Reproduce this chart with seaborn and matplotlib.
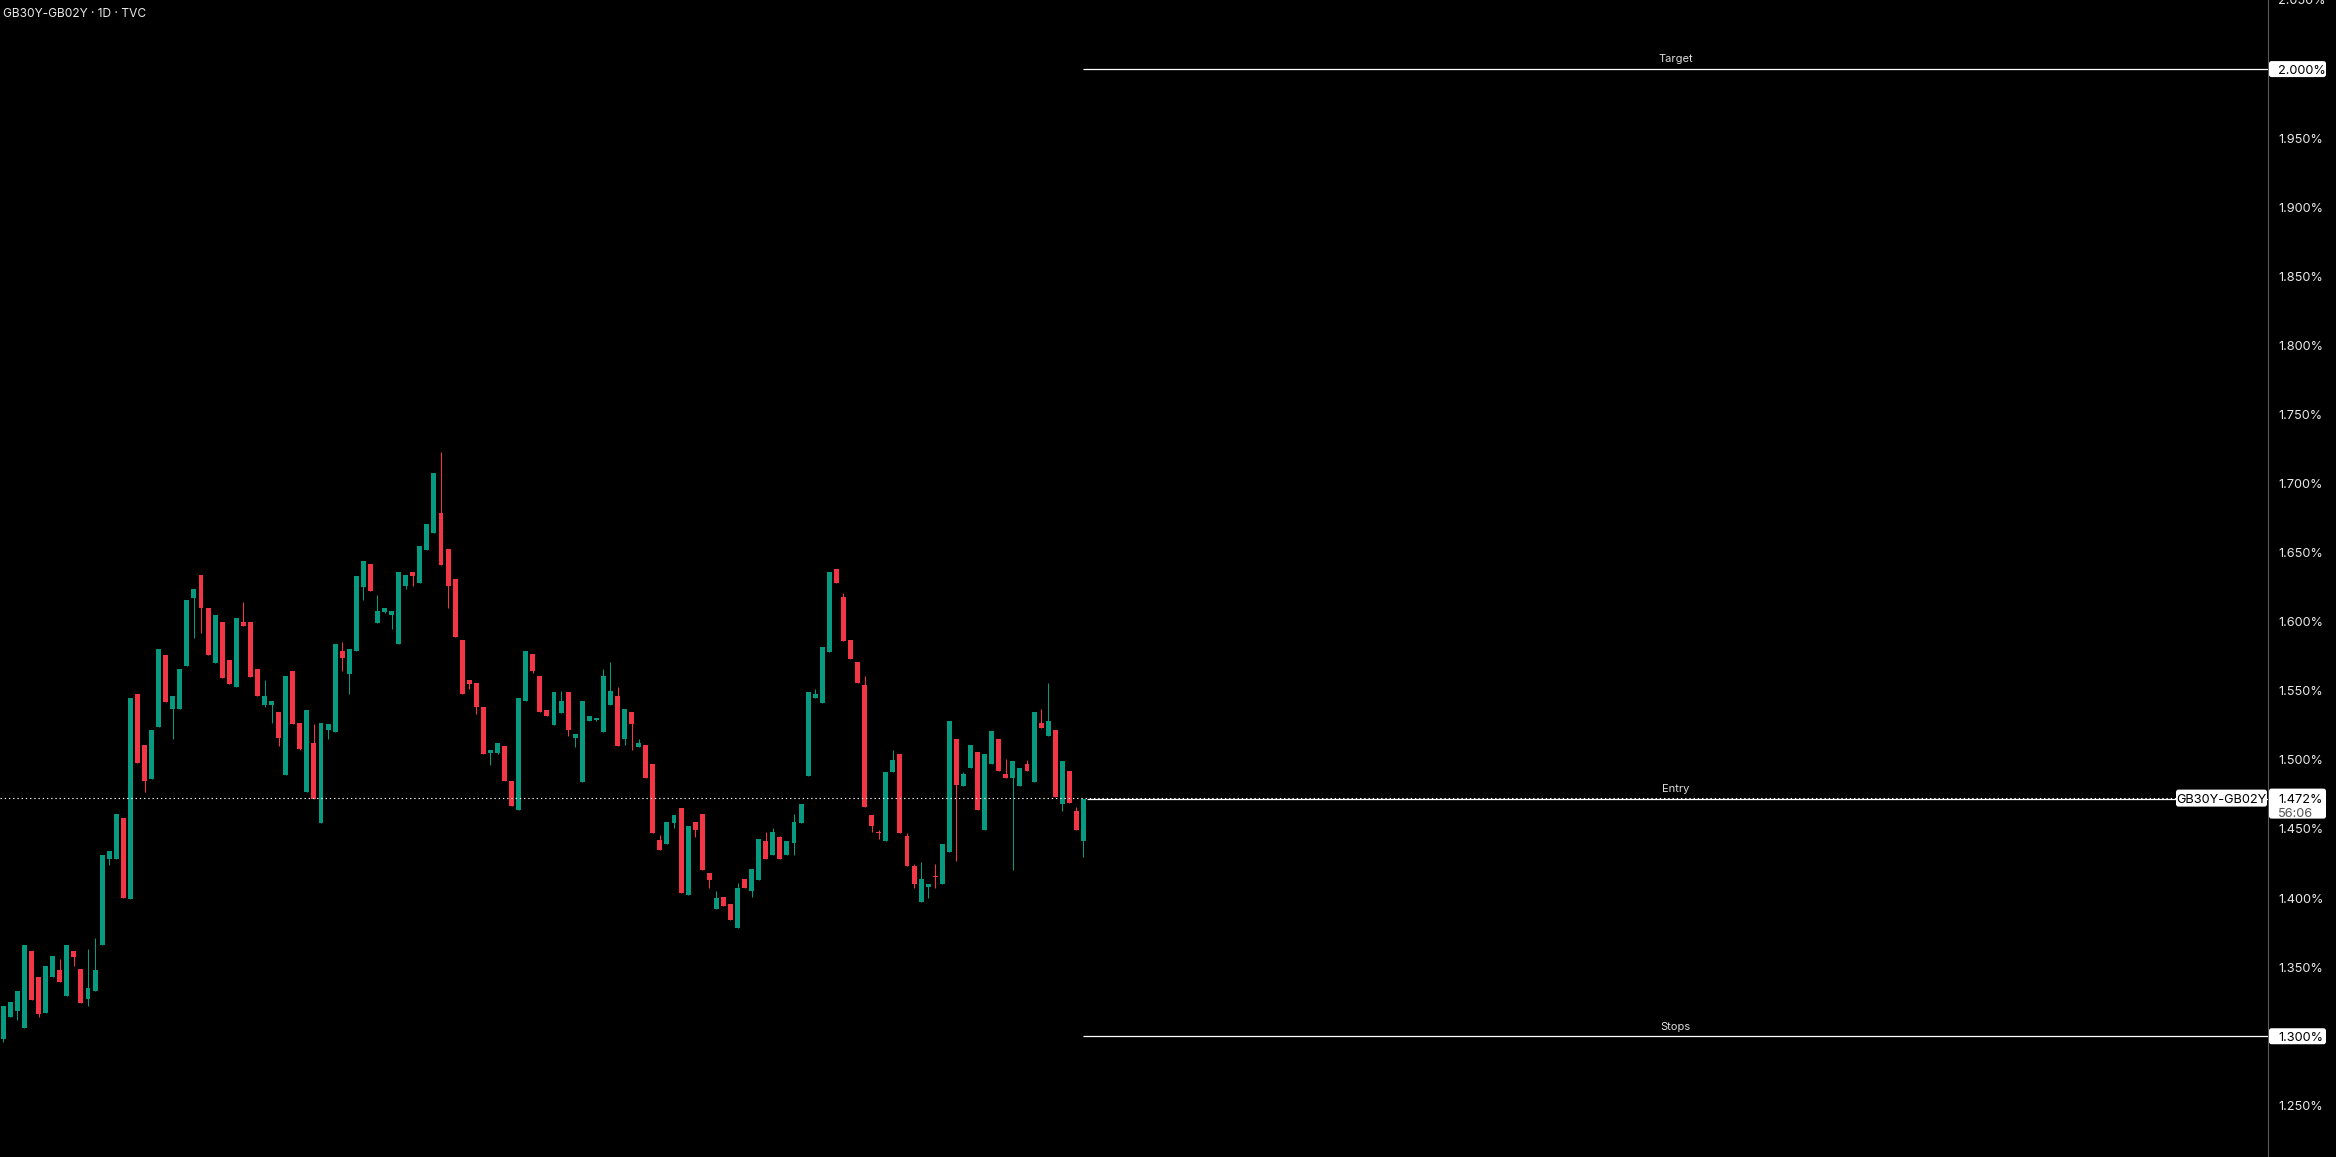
import matplotlib
matplotlib.use("Agg")
import matplotlib.pyplot as plt
import matplotlib.transforms as mtransforms
from matplotlib.patches import FancyBboxPatch
import numpy as np
import pandas as pd
import seaborn as sns

# ---- data ----
title = "GB30Y-GB02Y · 1D · TVC"
symbol = "GB30Y-GB02Y"
countdown = "56:06"

opens = [
    1.298, 1.314, 1.318, 1.306, 1.362, 1.343, 1.317, 1.343, 1.348, 1.329,
    1.362, 1.349, 1.327, 1.333, 1.366, 1.428, 1.428, 1.458, 1.399, 1.548,
    1.511, 1.486, 1.524, 1.576, 1.537, 1.537, 1.568, 1.617, 1.634, 1.610,
    1.570, 1.600, 1.572, 1.553, 1.600, 1.600, 1.566, 1.540, 1.540, 1.535,
    1.489, 1.564, 1.527, 1.477, 1.512, 1.454, 1.522, 1.520, 1.579, 1.562,
    1.579, 1.625, 1.642, 1.599, 1.607, 1.605, 1.584, 1.626, 1.636, 1.628,
    1.652, 1.664, 1.679, 1.653, 1.631, 1.587, 1.558, 1.556, 1.538, 1.505,
    1.505, 1.510, 1.485, 1.464, 1.543, 1.577, 1.561, 1.536, 1.525, 1.534,
    1.549, 1.516, 1.484, 1.528, 1.529, 1.520, 1.540, 1.546, 1.515, 1.535,
    1.509, 1.511, 1.497, 1.442, 1.439, 1.454, 1.465, 1.402, 1.455, 1.461,
    1.418, 1.392, 1.401, 1.396, 1.378, 1.414, 1.405, 1.413, 1.441, 1.431,
    1.444, 1.431, 1.440, 1.454, 1.488, 1.545, 1.541, 1.578, 1.638, 1.618,
    1.587, 1.571, 1.554, 1.460, 1.448, 1.441, 1.491, 1.504, 1.445, 1.423,
    1.397, 1.408, 1.416, 1.410, 1.433, 1.515, 1.481, 1.494, 1.506, 1.449,
    1.497, 1.515, 1.490, 1.487, 1.481, 1.497, 1.484, 1.527, 1.517, 1.522,
    1.468, 1.492, 1.463, 1.441,
]
highs = [
    1.322, 1.325, 1.333, 1.366, 1.362, 1.343, 1.351, 1.358, 1.356, 1.366,
    1.362, 1.349, 1.363, 1.371, 1.431, 1.434, 1.461, 1.458, 1.545, 1.548,
    1.511, 1.522, 1.580, 1.576, 1.546, 1.566, 1.616, 1.624, 1.634, 1.610,
    1.605, 1.600, 1.572, 1.603, 1.614, 1.600, 1.566, 1.558, 1.543, 1.535,
    1.561, 1.564, 1.527, 1.536, 1.526, 1.527, 1.526, 1.584, 1.585, 1.580,
    1.633, 1.644, 1.642, 1.619, 1.610, 1.608, 1.636, 1.634, 1.636, 1.655,
    1.671, 1.708, 1.723, 1.653, 1.631, 1.587, 1.558, 1.556, 1.538, 1.507,
    1.512, 1.510, 1.485, 1.545, 1.579, 1.577, 1.561, 1.536, 1.549, 1.550,
    1.549, 1.519, 1.543, 1.532, 1.530, 1.566, 1.571, 1.553, 1.537, 1.535,
    1.515, 1.511, 1.497, 1.446, 1.455, 1.460, 1.465, 1.452, 1.455, 1.461,
    1.418, 1.405, 1.401, 1.396, 1.411, 1.414, 1.421, 1.443, 1.448, 1.451,
    1.445, 1.441, 1.461, 1.468, 1.549, 1.551, 1.582, 1.636, 1.638, 1.621,
    1.587, 1.571, 1.561, 1.460, 1.449, 1.491, 1.507, 1.504, 1.447, 1.425,
    1.426, 1.410, 1.425, 1.439, 1.528, 1.515, 1.491, 1.511, 1.506, 1.504,
    1.521, 1.515, 1.501, 1.499, 1.494, 1.500, 1.535, 1.537, 1.556, 1.522,
    1.499, 1.492, 1.466, 1.472,
]
lows = [
    1.296, 1.314, 1.312, 1.306, 1.326, 1.314, 1.317, 1.343, 1.339, 1.329,
    1.351, 1.324, 1.322, 1.333, 1.366, 1.424, 1.428, 1.400, 1.399, 1.498,
    1.477, 1.486, 1.524, 1.542, 1.515, 1.537, 1.568, 1.588, 1.592, 1.576,
    1.570, 1.559, 1.555, 1.553, 1.597, 1.560, 1.546, 1.538, 1.527, 1.510,
    1.489, 1.526, 1.507, 1.477, 1.472, 1.454, 1.515, 1.520, 1.564, 1.548,
    1.579, 1.616, 1.622, 1.599, 1.606, 1.595, 1.584, 1.624, 1.626, 1.628,
    1.652, 1.664, 1.641, 1.610, 1.589, 1.548, 1.551, 1.533, 1.504, 1.496,
    1.504, 1.485, 1.467, 1.464, 1.543, 1.563, 1.535, 1.532, 1.525, 1.534,
    1.517, 1.509, 1.484, 1.528, 1.528, 1.520, 1.540, 1.510, 1.511, 1.507,
    1.509, 1.487, 1.447, 1.435, 1.439, 1.451, 1.404, 1.402, 1.444, 1.420,
    1.407, 1.392, 1.394, 1.384, 1.378, 1.407, 1.401, 1.413, 1.428, 1.431,
    1.428, 1.431, 1.431, 1.454, 1.488, 1.545, 1.541, 1.578, 1.628, 1.586,
    1.573, 1.556, 1.466, 1.448, 1.443, 1.441, 1.491, 1.447, 1.423, 1.407,
    1.397, 1.400, 1.407, 1.410, 1.433, 1.427, 1.481, 1.494, 1.464, 1.449,
    1.497, 1.492, 1.487, 1.420, 1.481, 1.492, 1.484, 1.523, 1.517, 1.473,
    1.463, 1.469, 1.449, 1.430,
]
closes = [
    1.322, 1.325, 1.333, 1.366, 1.326, 1.316, 1.351, 1.358, 1.339, 1.366,
    1.357, 1.324, 1.335, 1.348, 1.431, 1.434, 1.461, 1.400, 1.545, 1.498,
    1.485, 1.522, 1.580, 1.542, 1.546, 1.566, 1.616, 1.624, 1.610, 1.576,
    1.605, 1.559, 1.555, 1.603, 1.597, 1.560, 1.546, 1.546, 1.543, 1.516,
    1.561, 1.526, 1.508, 1.536, 1.472, 1.527, 1.526, 1.584, 1.574, 1.580,
    1.633, 1.644, 1.622, 1.608, 1.610, 1.608, 1.636, 1.634, 1.633, 1.655,
    1.671, 1.708, 1.641, 1.626, 1.589, 1.548, 1.555, 1.538, 1.504, 1.507,
    1.512, 1.485, 1.467, 1.545, 1.579, 1.564, 1.535, 1.532, 1.549, 1.543,
    1.522, 1.519, 1.543, 1.532, 1.530, 1.561, 1.550, 1.510, 1.537, 1.526,
    1.512, 1.487, 1.447, 1.435, 1.455, 1.460, 1.404, 1.452, 1.449, 1.420,
    1.413, 1.400, 1.394, 1.384, 1.407, 1.407, 1.421, 1.443, 1.428, 1.448,
    1.428, 1.441, 1.455, 1.468, 1.549, 1.548, 1.582, 1.636, 1.628, 1.586,
    1.573, 1.556, 1.466, 1.452, 1.447, 1.491, 1.500, 1.447, 1.423, 1.410,
    1.414, 1.410, 1.415, 1.439, 1.528, 1.482, 1.490, 1.511, 1.464, 1.504,
    1.521, 1.492, 1.487, 1.499, 1.494, 1.492, 1.535, 1.523, 1.528, 1.473,
    1.499, 1.469, 1.449, 1.472,
]

levels = ["Target", "Entry", "Stops"]
level_values = [2.000, 1.472, 1.300]
tick_values = [1.25, 1.35, 1.40, 1.45, 1.50, 1.55, 1.60, 1.65,
               1.70, 1.75, 1.80, 1.85, 1.90, 1.95, 2.05]
y_min, y_max = 1.2126, 2.0486

up_color = "#089981"
down_color = "#f23645"
text_color = "#dcdcdc"

df = pd.DataFrame({"open": opens, "high": highs, "low": lows, "close": closes})
df["i"] = np.arange(len(df))
df["color"] = np.where(df["close"] >= df["open"], up_color, down_color)
df["body_lo"] = df[["open", "close"]].min(axis=1)
df["body_h"] = (df["close"] - df["open"]).abs().clip(lower=0.0008)

# ---- style ----
sns.set_theme(style="dark", rc={
    "axes.facecolor": "black",
    "figure.facecolor": "black",
    "savefig.facecolor": "black",
    "axes.grid": False,
})
plt.rcParams["font.family"] = ["Inter", "DejaVu Sans"]

W, H = 2336, 1157
axis_px = 2268          # right price scale line
step_px = 7.06          # bar spacing
first_px = 3.3          # centre of first bar


def px_to_x(p):
    return (p - first_px) / step_px


fig = plt.figure(figsize=(W / 100, H / 100), dpi=100)
ax = fig.add_axes([0, 0, axis_px / W, 1])
x_lo, x_hi = px_to_x(0), px_to_x(axis_px)
ax.set_xlim(x_lo, x_hi)
ax.set_ylim(y_min, y_max)

# candles
ax.vlines(df["i"], df["low"], df["high"], colors=df["color"], lw=0.75, zorder=2)
ax.bar(df["i"], df["body_h"], bottom=df["body_lo"], width=0.7,
       color=df["color"], linewidth=0, zorder=3)

# level lines
last_i = len(df) - 1
for name, val in zip(levels, level_values):
    start = last_i + 0.5 if name == "Entry" else last_i
    ax.hlines(val, start, x_hi, colors="white", lw=0.9, zorder=4)
    ax.annotate(name, xy=((last_i + x_hi) / 2, val), xytext=(0, 4.8),
                textcoords="offset points", ha="center", va="baseline",
                color=text_color, fontsize=8)

# dotted last-price line (sits one pixel above the entry line)
up1 = ax.transData + mtransforms.ScaledTranslation(0, 1 / 100, fig.dpi_scale_trans)
ax.hlines(closes[-1], x_lo, px_to_x(2176), colors="white", lw=0.8,
          linestyles=(0, (1.2, 2.6)), zorder=4, transform=up1)

# price scale
ax.yaxis.tick_right()
ax.set_yticks(tick_values)
ax.set_yticklabels([f"{v:.3f}%" for v in tick_values])
ax.tick_params(axis="y", length=0, pad=7.2, labelsize=9.2, labelcolor="#e8e8e8")
ax.tick_params(axis="x", length=0, labelbottom=False)
ax.set_xticks([])
for side in ["top", "left", "bottom"]:
    ax.spines[side].set_visible(False)
ax.spines["right"].set_color("#5a5a5a")
ax.spines["right"].set_linewidth(0.8)

fig.text(3 / W, 1 - 16.7 / H, title, ha="left", va="baseline",
         color="#e8e8e8", fontsize=8.6)

ident = mtransforms.IdentityTransform()


def ypix(val):
    return ax.transData.transform((0, val))[1]


def label_box(x0, x1, y0, y1):
    fig.add_artist(FancyBboxPatch((x0, y0), x1 - x0, y1 - y0,
                                  boxstyle="round,pad=0,rounding_size=2.5",
                                  transform=ident, fc="white", ec="none",
                                  zorder=6))


for val in [level_values[0], level_values[2]]:
    yc = ypix(val)
    label_box(axis_px + 1, 2326, yc - 8, yc + 8)
    fig.text(2278, yc, f"{val:.3f}%", transform=ident, ha="left",
             va="center_baseline", color="black", fontsize=9.2, zorder=7)

yc = ypix(closes[-1])
label_box(axis_px + 1, 2326, yc - 20, yc + 10)
fig.text(2278, yc, f"{closes[-1]:.3f}%", transform=ident, ha="left",
         va="center_baseline", color="black", fontsize=9.2, zorder=7)
fig.text(2278, yc - 13.5, countdown, transform=ident, ha="left",
         va="center_baseline", color="#555555", fontsize=9.2, zorder=7)
label_box(2176, axis_px - 1, yc - 8, yc + 9)
fig.text(2221, yc, symbol, transform=ident, ha="center",
         va="center_baseline", color="black", fontsize=9.2, zorder=7)

fig.savefig("out.png", dpi=100, facecolor="black")
